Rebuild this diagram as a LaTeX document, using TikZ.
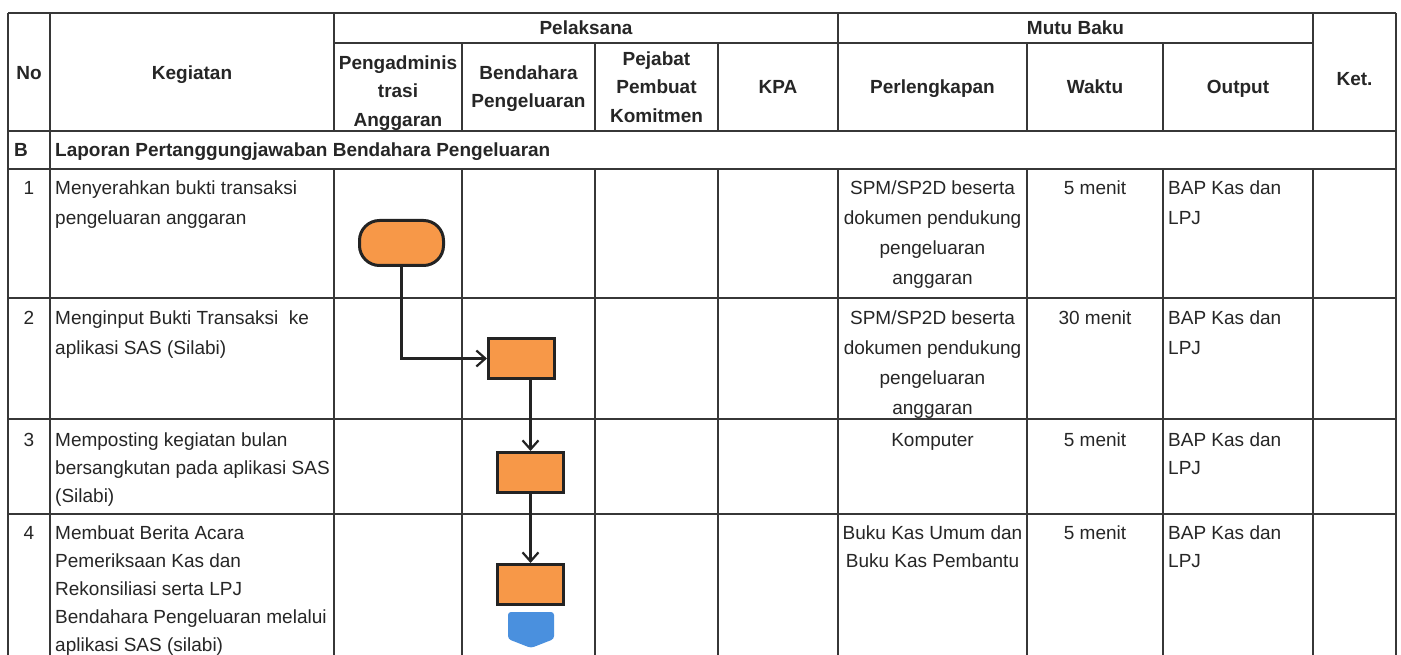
\documentclass[tikz,border=0pt]{standalone}
\usepackage{fontspec}
\setmainfont{Liberation Sans}
\usetikzlibrary{arrows.meta}
\definecolor{gridc}{RGB}{55,55,55}
\definecolor{ink}{RGB}{38,38,38}
\definecolor{orangefill}{RGB}{247,152,72}
\definecolor{bluefill}{RGB}{74,144,222}
\definecolor{outline}{RGB}{35,35,35}
\newcommand\hs{\rule{0pt}{14pt}}
\begin{document}
\begin{tikzpicture}[x=1pt,y=-1pt,
  gridline/.style={draw=gridc, line width=1.8pt},
  hdr/.style={font=\bfseries\fontsize{19}{28.5}\selectfont, text=ink, inner sep=0pt, align=center},
  bodyl/.style={font=\fontsize{19}{30}\selectfont, text=ink, inner sep=0pt, align=left, anchor=north west},
  bodyc/.style={font=\fontsize{19}{30}\selectfont, text=ink, inner sep=0pt, align=center, anchor=north},
  tight/.style={font=\fontsize{19}{28}\selectfont},
  terminal/.style={draw=outline, line width=3pt, fill=orangefill, rounded corners=20pt, minimum width=84pt, minimum height=45pt},
  process/.style={draw=outline, line width=3pt, fill=orangefill, minimum width=66pt, minimum height=40pt},
  flow/.style={draw=outline, line width=2.2pt, -{Straight Barb[length=9pt,width=16pt,line width=2.2pt]}},
]
\useasboundingbox (0,0) rectangle (1401,655);
\clip (0,0) rectangle (1401,655);
\fill[white] (0,0) rectangle (1401,655);

% table grid
\draw[gridline] (8,13) -- (1396,13);
\draw[gridline] (334,43) -- (1313,43);
\foreach \yy in {131,169,298,419,514} \draw[gridline] (8,\yy) -- (1396,\yy);
\foreach \xx in {8,50,1396} \draw[gridline] (\xx,13) -- (\xx,665);
\foreach \xx in {334,838,1313} {\draw[gridline] (\xx,13) -- (\xx,131); \draw[gridline] (\xx,169) -- (\xx,665);}
\foreach \xx in {462,595,718,1027,1163} {\draw[gridline] (\xx,43) -- (\xx,131); \draw[gridline] (\xx,169) -- (\xx,665);}

% header
\node[hdr, anchor=base] (hno) at (29,80) {No};
\node[hdr, anchor=base] (hkeg) at (192,80) {Kegiatan};
\node[hdr, anchor=base] (hpel) at (586,35) {Pelaksana};
\node[hdr, anchor=base] (hmutu) at (1075.5,35) {Mutu Baku};
\node[hdr, anchor=north] (hpa) at (398,55) {\hs Pengadminis\\trasi\\Anggaran};
\node[hdr, anchor=north] (hbp) at (528.5,65) {\hs Bendahara\\Pengeluaran};
\node[hdr, anchor=north] (hppk) at (656.5,51) {\hs Pejabat\\Pembuat\\Komitmen};
\node[hdr, anchor=base] (hkpa) at (778,94) {KPA};
\node[hdr, anchor=base] (hperl) at (932.5,94) {Perlengkapan};
\node[hdr, anchor=base] (hwak) at (1095,94) {Waktu};
\node[hdr, anchor=base] (hout) at (1238,94) {Output};
\node[hdr, anchor=base] (hket) at (1354.5,86) {Ket.};

% section row
\node[hdr, anchor=base west] (bno) at (14,157) {B};
\node[hdr, anchor=base west] (btitle) at (55,157) {Laporan Pertanggungjawaban Bendahara Pengeluaran};

% row 1
\node[bodyc] (n1) at (29,180.5) {\hs 1};
\node[bodyl] (k1) at (55,180.5) {\hs Menyerahkan bukti transaksi\\pengeluaran anggaran};
\node[bodyc] (p1) at (932.5,180.5) {\hs SPM/SP2D beserta\\dokumen pendukung\\pengeluaran\\anggaran};
\node[bodyc] (w1) at (1095,180.5) {\hs 5 menit};
\node[bodyl] (o1) at (1168,180.5) {\hs BAP Kas dan\\LPJ};

% row 2
\node[bodyc] (n2) at (29,310.5) {\hs 2};
\node[bodyl] (k2) at (55,310.5) {\hs Menginput Bukti Transaksi \ ke\\aplikasi SAS (Silabi)};
\node[bodyc] (p2) at (932.5,310.5) {\hs SPM/SP2D beserta\\dokumen pendukung\\pengeluaran\\anggaran};
\node[bodyc] (w2) at (1095,310.5) {\hs 30 menit};
\node[bodyl] (o2) at (1168,310.5) {\hs BAP Kas dan\\LPJ};

% row 3
\node[bodyc, tight] (n3) at (29,432.5) {\hs 3};
\node[bodyl, tight] (k3) at (55,432.5) {\hs Memposting kegiatan bulan\\bersangkutan pada aplikasi SAS\\(Silabi)};
\node[bodyc, tight] (p3) at (932.5,432.5) {\hs Komputer};
\node[bodyc, tight] (w3) at (1095,432.5) {\hs 5 menit};
\node[bodyl, tight] (o3) at (1168,432.5) {\hs BAP Kas dan\\LPJ};

% row 4
\node[bodyc, tight] (n4) at (29,525.5) {\hs 4};
\node[bodyl, tight] (k4) at (55,525.5) {\hs Membuat Berita Acara\\Pemeriksaan Kas dan\\Rekonsiliasi serta LPJ\\Bendahara Pengeluaran melalui\\aplikasi SAS (silabi)};
\node[bodyc, tight] (p4) at (932.5,525.5) {\hs Buku Kas Umum dan\\Buku Kas Pembantu};
\node[bodyc, tight] (w4) at (1095,525.5) {\hs 5 menit};
\node[bodyl, tight] (o4) at (1168,525.5) {\hs BAP Kas dan\\LPJ};

% flow
\node[terminal] (t1) at (401.5,243) {};
\node[process] (r2) at (521.5,358.5) {};
\node[process] (r3) at (530.5,472.5) {};
\node[process] (r4) at (530.5,584.5) {};
\draw[flow] (t1.south) |- (r2.west);
\draw[flow] (r2.south -| r3.north) -- (r3.north);
\draw[flow] (r3.south) -- (r4.north);
\fill[bluefill, rounded corners=3pt] (508,612) -- (554,612) -- (554,639) -- (531,648) -- (508,639) -- cycle;
\end{tikzpicture}
\end{document}
